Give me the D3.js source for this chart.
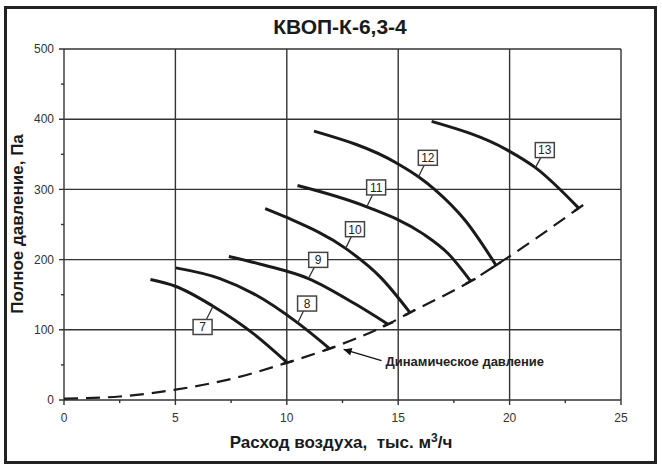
<!DOCTYPE html>
<html>
<head>
<meta charset="utf-8">
<script src="https://cdn.jsdelivr.net/npm/d3@7.9.0/dist/d3.min.js"></script>
<style>
  body { margin: 0; background: #fff; }
  text { font-family: "Liberation Sans", Arial, sans-serif; }
</style>
</head>
<body>
<svg id="chart" width="662" height="469"></svg>
<script>
// ticks
const xTicks = [0, 5, 10, 15, 20, 25];
const xMinorTicks = [2.5, 7.5, 12.5, 17.5, 22.5];
const yTicks = [0, 100, 200, 300, 400, 500];
const yMinorTicks = [50, 150, 250, 350, 450];

// fan curves, [расход тыс. м3/ч, давление Па]
const curveNames = ["7", "8", "9", "10", "11", "12", "13"];
const curve7 = [[3.88, 171.6], [5, 162], [6.69, 133.6], [8.5, 94.6], [10.02, 53.2]];
const curve8 = [[5.02, 188.2], [7, 173], [8.5, 151.6], [10.49, 109.8], [11.92, 73.2]];
const curve9 = [[7.4, 204.4], [9, 192], [10.97, 173], [13.06, 137], [14.54, 107.9]];
const curve10 = [[9.03, 272.8], [10, 260], [12.64, 216], [14.2, 175], [15.53, 124.5]];
const curve11 = [[10.48, 305.6], [13.59, 275.2], [16.1, 237], [17.24, 208.6], [18.25, 169.2]];
const curve12 = [[11.22, 383], [14.96, 337], [15.91, 318], [16.67, 299], [18.0, 256], [19.39, 192]];
const curve13 = [[16.5, 396.9], [19.9, 356], [21.16, 331], [23.1, 273.3]];
const curves = [curve7, curve8, curve9, curve10, curve11, curve12, curve13];

// number boxes and where their leader touches the curve
const labelBoxes = [[6.22, 104], [10.91, 137.4], [11.41, 199.6], [13.06, 243.3], [14.01, 302.8], [16.33, 345], [21.58, 356]];
const labelAnchors = [[6.69, 133.6], [10.49, 109.8], [10.97, 173], [12.64, 216], [13.59, 275.2], [15.91, 318], [21.16, 331]];

// dynamic pressure (dashed)
const dynamicPressure = [[0, 2], [2.5, 5], [5, 14.7], [7.5, 30], [10.02, 53.2], [11.92, 73.2], [14.54, 107.9],
  [15.53, 124.5], [18.25, 169.2], [19.39, 192], [23.1, 273.3]];
const arrowTail = [14.25, 56];
const arrowTip = [12.55, 72];

const svg = d3.select("#chart");

const x = d3.scaleLinear().domain([0, 25]).range([64, 621]);
const y = d3.scaleLinear().domain([0, 500]).range([400, 49]);

svg.append("defs").append("marker")
  .attr("id", "arrow")
  .attr("viewBox", "0 0 10 10")
  .attr("refX", 10).attr("refY", 5)
  .attr("markerWidth", 10).attr("markerHeight", 8)
  .attr("markerUnits", "userSpaceOnUse")
  .attr("orient", "auto")
  .append("path")
  .attr("d", "M0,0L10,5L0,10z")
  .attr("fill", "#111");

// grid
const grid = svg.append("g").attr("stroke", "#333").attr("stroke-width", 1.4);
grid.selectAll(".gx").data(xTicks).join("line")
  .attr("x1", (d) => x(d)).attr("x2", (d) => x(d))
  .attr("y1", y(0) + 5).attr("y2", y(500));
grid.selectAll(".gy").data(yTicks).join("line")
  .attr("class", "gy")
  .attr("x1", x(0) - 5).attr("x2", x(25))
  .attr("y1", (d) => y(d)).attr("y2", (d) => y(d));
grid.selectAll(".mx").data(xMinorTicks).join("line")
  .attr("class", "mx")
  .attr("x1", (d) => x(d)).attr("x2", (d) => x(d))
  .attr("y1", y(0)).attr("y2", y(0) + 3);
grid.selectAll(".my").data(yMinorTicks).join("line")
  .attr("class", "my")
  .attr("x1", x(0) - 3).attr("x2", x(0))
  .attr("y1", (d) => y(d)).attr("y2", (d) => y(d));

// tick labels
svg.append("g").selectAll("text").data(xTicks).join("text")
  .attr("x", (d) => x(d)).attr("y", 422)
  .attr("text-anchor", "middle")
  .attr("font-size", 12).attr("fill", "#333")
  .text((d) => d);
svg.append("g").selectAll("text").data(yTicks).join("text")
  .attr("x", 54).attr("y", (d) => y(d))
  .attr("dy", "0.35em")
  .attr("text-anchor", "end")
  .attr("font-size", 12).attr("fill", "#333")
  .text((d) => d);

// dynamic pressure
const line = d3.line().x((d) => x(d[0])).y((d) => y(d[1]));
svg.append("path")
  .datum(dynamicPressure)
  .attr("d", line.curve(d3.curveMonotoneX))
  .attr("fill", "none")
  .attr("stroke", "#1a1a1a")
  .attr("stroke-width", 2.2)
  .attr("stroke-dasharray", "14,8");

// fan curves
svg.append("g").selectAll("path").data(curves).join("path")
  .attr("d", d3.line().x((d) => x(d[0])).y((d) => y(d[1])).curve(d3.curveMonotoneX))
  .attr("fill", "none")
  .attr("stroke", "#1a1a1a")
  .attr("stroke-width", 3);

// short bars where each curve meets the dashed line
function dynSlope(px) {
  let i = dynamicPressure.findIndex((p) => p[0] >= px);
  i = Math.max(1, i);
  const a = dynamicPressure[i - 1], b = dynamicPressure[i];
  return Math.atan2(y(b[1]) - y(a[1]), x(b[0]) - x(a[0]));
}
svg.append("g").selectAll("line").data(curves).join("line")
  .each(function (c) {
    const end = c[c.length - 1];
    const ang = dynSlope(end[0] - 0.01);
    const cx = x(end[0]), cy = y(end[1]);
    const r = 5.5;
    d3.select(this)
      .attr("x1", cx - r * Math.cos(ang)).attr("y1", cy - r * Math.sin(ang))
      .attr("x2", cx + r * Math.cos(ang)).attr("y2", cy + r * Math.sin(ang));
  })
  .attr("stroke", "#1a1a1a")
  .attr("stroke-width", 2.4);

// number labels
const boxW = 19, boxH = 15;
const labels = svg.append("g").selectAll("g").data(curveNames).join("g");
labels.append("line")
  .attr("x1", (d, i) => x(labelBoxes[i][0]))
  .attr("y1", (d, i) => y(labelBoxes[i][1]))
  .attr("x2", (d, i) => x(labelAnchors[i][0]))
  .attr("y2", (d, i) => y(labelAnchors[i][1]))
  .attr("stroke", "#333")
  .attr("stroke-width", 1.3);
labels.append("rect")
  .attr("x", (d, i) => x(labelBoxes[i][0]) - boxW / 2)
  .attr("y", (d, i) => y(labelBoxes[i][1]) - boxH / 2)
  .attr("width", boxW).attr("height", boxH)
  .attr("fill", "#fff")
  .attr("stroke", "#444")
  .attr("stroke-width", 1.5);
labels.append("text")
  .attr("x", (d, i) => x(labelBoxes[i][0]))
  .attr("y", (d, i) => y(labelBoxes[i][1]))
  .attr("dy", "0.36em")
  .attr("text-anchor", "middle")
  .attr("font-size", 12)
  .attr("fill", "#222")
  .text((d) => d);

// annotation
svg.append("line")
  .attr("x1", x(arrowTail[0])).attr("y1", y(arrowTail[1]))
  .attr("x2", x(arrowTip[0])).attr("y2", y(arrowTip[1]))
  .attr("stroke", "#111").attr("stroke-width", 1.3)
  .attr("marker-end", "url(#arrow)");
svg.append("text")
  .attr("x", x(arrowTail[0]) + 4).attr("y", 366)
  .attr("font-size", 13).attr("font-weight", "bold").attr("fill", "#222")
  .text("Динамическое давление");

// titles
svg.append("text")
  .attr("x", 340).attr("y", 34)
  .attr("text-anchor", "middle")
  .attr("font-size", 21).attr("font-weight", "bold").attr("fill", "#1a1a1a")
  .text("КВОП-К-6,3-4");

const xTitle = svg.append("text")
  .attr("x", 341).attr("y", 448)
  .attr("text-anchor", "middle")
  .attr("font-size", 17).attr("font-weight", "bold").attr("fill", "#1a1a1a")
  .attr("xml:space", "preserve");
xTitle.append("tspan").text("Расход воздуха,  тыс. м");
xTitle.append("tspan").attr("dy", -6).attr("font-size", 12).text("3");
xTitle.append("tspan").attr("dy", 6).text("/ч");

svg.append("text")
  .attr("transform", "translate(23,224) rotate(-90)")
  .attr("text-anchor", "middle")
  .attr("font-size", 17).attr("font-weight", "bold").attr("fill", "#1a1a1a")
  .text("Полное давление, Па");

// frame
svg.append("rect")
  .attr("x", 5.5).attr("y", 7.5)
  .attr("width", 650).attr("height", 455)
  .attr("fill", "none")
  .attr("stroke", "#222")
  .attr("stroke-width", 3);
</script>
</body>
</html>
